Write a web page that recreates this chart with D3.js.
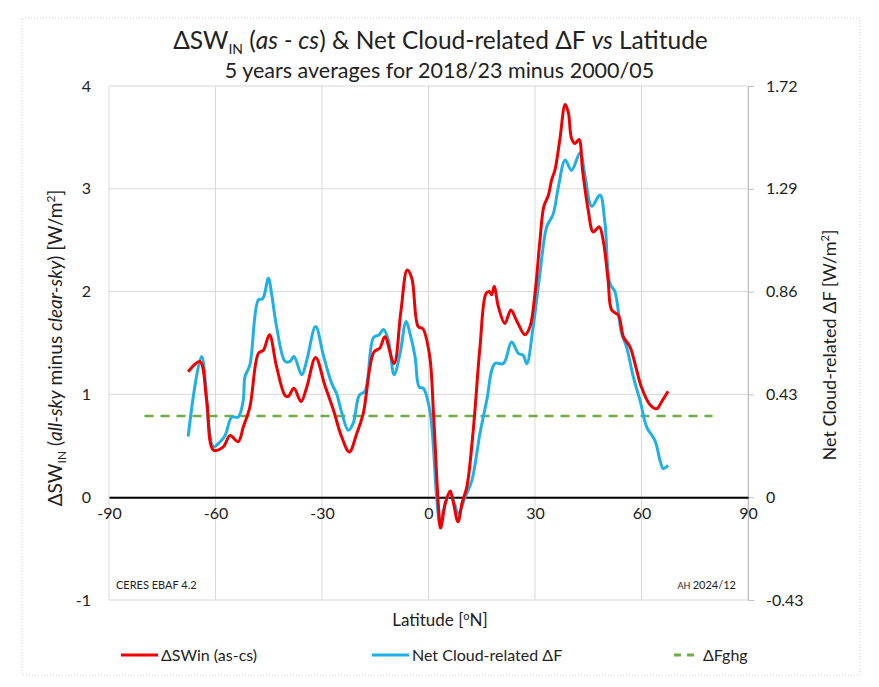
<!DOCTYPE html>
<html>
<head>
<meta charset="utf-8">
<script src="https://cdn.jsdelivr.net/npm/d3@7"></script>
<style>
  body { margin: 0; background: #fff; }
  text { font-family: Lato, "Open Sans", sans-serif; fill: #222; }
</style>
</head>
<body>
<svg width="879" height="687"></svg>
<script>
// latitude [deg N] and dSWin (as-cs) [W/m2], left axis
const swLat = [-67.7, -64.4, -62.5, -60.6, -57.8, -55.9, -53.6, -52.2, -50.3, -47.9, -46.5, -44.8, -42.8, -40.4, -39.5, -37.9, -35.9, -34.3, -31.8, -29.2, -26.8, -24.5, -22.3, -20.2, -18.4, -15.4, -13.7, -12.3, -9.7, -7.8, -6.0, -4.7, -2.9, -1.6, 0.3, 1.4, 2.8, 3.4, 4.8, 6.1, 7.0, 8.3, 9.5, 10.8, 12.6, 14.5, 16.2, 17.1, 17.8, 18.5, 19.7, 21.5, 23.2, 24.8, 27.2, 28.6, 30.0, 31.4, 32.5, 33.8, 34.7, 35.6, 37.0, 38.5, 39.4, 40.3, 41.3, 42.4, 43.4, 45.0, 46.4, 48.1, 49.2, 50.6, 51.6, 53.5, 54.9, 56.8, 58.6, 60.0, 62.4, 64.3, 65.7, 67.5];
const swVal = [1.22, 1.32, 0.95, 0.46, 0.49, 0.60, 0.54, 0.68, 0.88, 1.40, 1.43, 1.58, 1.27, 0.99, 0.98, 1.06, 0.93, 1.07, 1.36, 1.09, 0.85, 0.59, 0.44, 0.62, 0.81, 1.41, 1.45, 1.56, 1.30, 1.80, 2.21, 2.13, 1.66, 1.64, 1.38, 0.82, -0.09, -0.30, -0.05, 0.06, -0.05, -0.24, -0.05, 0.10, 0.65, 1.46, 1.98, 2.00, 1.97, 2.05, 1.85, 1.69, 1.82, 1.72, 1.58, 1.66, 1.98, 2.50, 2.83, 2.94, 3.09, 3.18, 3.48, 3.82, 3.74, 3.49, 3.44, 3.48, 3.18, 2.79, 2.58, 2.63, 2.50, 2.11, 1.82, 1.77, 1.56, 1.46, 1.24, 1.07, 0.90, 0.86, 0.93, 1.03];

// net cloud-related dF [W/m2], right axis
const cfLat = [-67.7, -63.9, -60.6, -58.7, -57.3, -55.4, -53.6, -52.2, -51.7, -50.3, -47.9, -46.7, -45.1, -44.2, -42.8, -40.4, -39.0, -37.9, -35.7, -34.3, -31.8, -29.6, -27.3, -25.9, -24.5, -22.6, -21.2, -19.5, -17.9, -15.5, -13.9, -12.7, -11.3, -9.7, -8.0, -6.3, -5.2, -3.8, -2.6, -1.5, 0.4, 2.3, 3.2, 4.8, 6.1, 7.2, 8.4, 10.3, 12.2, 14.5, 16.4, 18.7, 21.1, 23.4, 25.3, 26.7, 27.7, 29.5, 31.4, 33.3, 35.1, 36.6, 38.5, 40.3, 42.7, 44.1, 46.0, 48.3, 49.7, 51.1, 52.5, 54.4, 55.8, 57.7, 59.6, 61.5, 63.8, 65.2, 66.1, 67.5];
const cfVal = [0.254, 0.589, 0.211, 0.232, 0.258, 0.335, 0.335, 0.404, 0.503, 0.555, 0.826, 0.830, 0.916, 0.851, 0.714, 0.568, 0.568, 0.589, 0.512, 0.572, 0.714, 0.593, 0.477, 0.434, 0.357, 0.280, 0.310, 0.426, 0.443, 0.667, 0.679, 0.701, 0.658, 0.512, 0.602, 0.735, 0.684, 0.589, 0.460, 0.456, 0.361, 0.0, -0.108, -0.022, 0.017, -0.022, -0.069, 0.0, 0.069, 0.267, 0.404, 0.559, 0.559, 0.649, 0.602, 0.593, 0.559, 0.714, 0.937, 1.131, 1.183, 1.299, 1.410, 1.367, 1.441, 1.342, 1.217, 1.264, 1.148, 0.894, 0.860, 0.684, 0.628, 0.503, 0.404, 0.292, 0.237, 0.155, 0.120, 0.133];

// dFghg, right axis
const ghgLat = [-80, 80];
const ghgVal = [0.34, 0.34];

const xTicks = [-90, -60, -30, 0, 30, 60, 90];
const leftTicks = [-1, 0, 1, 2, 3, 4];
const rightTicks = [-0.43, 0, 0.43, 0.86, 1.29, 1.72];

const svg = d3.select("svg");
const width = parseInt(svg.attr("width"));

const plot = { left: 109, right: 748, top: 86, bottom: 600 };

const x = d3.scaleLinear().domain([-90, 90]).range([plot.left, plot.right]);
const yL = d3.scaleLinear().domain([-1, 4]).range([plot.bottom, plot.top]);
const yR = d3.scaleLinear().domain([-0.43, 1.72]).range([plot.bottom, plot.top]);

// plain hyphen for negatives, like the original
const hy = (s) => s.replace("−", "-");

// outer frame
svg.append("rect")
  .attr("x", 22).attr("y", 18).attr("width", 838).attr("height", 657)
  .attr("fill", "none").attr("stroke", "#cfcfcf").attr("stroke-dasharray", "1,2");

// title
const title = svg.append("text")
  .attr("x", width / 2 + 1).attr("y", 49)
  .attr("text-anchor", "middle").style("font-size", "24.5px");
title.append("tspan").text("ΔSW");
title.append("tspan").text("IN").attr("dy", 5).style("font-size", "14px");
title.append("tspan").text(" (").attr("dy", -5);
title.append("tspan").text("as - cs").style("font-style", "italic");
title.append("tspan").text(") & Net Cloud-related ΔF ");
title.append("tspan").text("vs").style("font-style", "italic");
title.append("tspan").text(" Latitude");

svg.append("text")
  .attr("x", width / 2).attr("y", 78)
  .attr("text-anchor", "middle").style("font-size", "21.5px")
  .text("5 years averages for 2018/23 minus 2000/05");

// grid
const grid = svg.append("g");
grid.selectAll("line.h").data(leftTicks).enter().append("line")
  .attr("x1", plot.left).attr("x2", plot.right)
  .attr("y1", (d) => yL(d)).attr("y2", (d) => yL(d))
  .attr("stroke", "#d9d9d9");
grid.selectAll("line.v").data(xTicks).enter().append("line")
  .attr("x1", (d) => x(d)).attr("x2", (d) => x(d))
  .attr("y1", plot.top).attr("y2", plot.bottom)
  .attr("stroke", "#d9d9d9");

// right axis
const rightAxis = d3.axisRight(yR).tickValues(rightTicks).tickSize(6).tickPadding(12)
  .tickFormat((d) => (d === 0 ? "0" : hy(d3.format(".2f")(d))));
const gR = svg.append("g").attr("transform", `translate(${plot.right},0)`).call(rightAxis);
gR.select(".domain").attr("stroke", "#bfbfbf");
gR.selectAll(".tick line").attr("stroke", "#bfbfbf");
gR.selectAll(".tick text").style("font-size", "16px").attr("fill", "#222")
  .style("font-family", "Lato, sans-serif");

// left axis (labels only)
const leftAxis = d3.axisLeft(yL).tickValues(leftTicks).tickSize(0).tickPadding(18)
  .tickFormat((d) => hy(d3.format("d")(d)));
const gL = svg.append("g").attr("transform", `translate(${plot.left},0)`).call(leftAxis);
gL.select(".domain").remove();
gL.selectAll(".tick text").style("font-size", "16px").attr("fill", "#222")
  .style("font-family", "Lato, sans-serif");

// x axis at zero
const xAxis = d3.axisBottom(x).tickValues(xTicks).tickSize(0).tickPadding(10)
  .tickFormat((d) => hy(d3.format("d")(d)));
const gX = svg.append("g").attr("transform", `translate(0,${yL(0)})`).call(xAxis);
gX.select(".domain").attr("stroke", "#000").attr("stroke-width", 2);
gX.selectAll(".tick text").style("font-size", "16px").attr("fill", "#222")
  .style("font-family", "Lato, sans-serif");

// lines
const ghgLine = d3.line().x((d, i) => x(ghgLat[i])).y((d) => yR(d));
svg.append("path").datum(ghgVal)
  .attr("d", ghgLine)
  .attr("fill", "none").attr("stroke", "#70ad47").attr("stroke-width", 2.5)
  .attr("stroke-dasharray", "9,7");

const cfLine = d3.line().curve(d3.curveCatmullRom)
  .x((d, i) => x(cfLat[i])).y((d) => yR(d));
svg.append("path").datum(cfVal)
  .attr("d", cfLine)
  .attr("fill", "none").attr("stroke", "#1fb0e8").attr("stroke-width", 3)
  .attr("stroke-linejoin", "round");

const swLine = d3.line().curve(d3.curveCatmullRom)
  .x((d, i) => x(swLat[i])).y((d) => yL(d));
svg.append("path").datum(swVal)
  .attr("d", swLine)
  .attr("fill", "none").attr("stroke", "#f00000").attr("stroke-width", 3)
  .attr("stroke-linejoin", "round");

// corner notes
svg.append("text").attr("x", 116).attr("y", 589).style("font-size", "11px")
  .text("CERES EBAF 4.2");
const note = svg.append("text").attr("x", 736).attr("y", 589)
  .attr("text-anchor", "end").style("font-size", "11px");
note.append("tspan").text("AH ").style("font-size", "9px");
note.append("tspan").text("2024/12");

// axis titles
const xTitle = svg.append("text").attr("x", 440).attr("y", 626)
  .attr("text-anchor", "middle").style("font-size", "17px");
xTitle.append("tspan").text("Latitude  [");
xTitle.append("tspan").text("o").attr("dy", -6).style("font-size", "11px");
xTitle.append("tspan").text("N]").attr("dy", 6);

const yTitle = svg.append("text")
  .attr("transform", "translate(62,348) rotate(-90)")
  .attr("text-anchor", "middle").style("font-size", "19px");
yTitle.append("tspan").text("ΔSW");
yTitle.append("tspan").text("IN").attr("dy", 4).style("font-size", "12px");
yTitle.append("tspan").text(" (").attr("dy", -4);
yTitle.append("tspan").text("all-sky").style("font-style", "italic");
yTitle.append("tspan").text(" minus ");
yTitle.append("tspan").text("clear-sky").style("font-style", "italic");
yTitle.append("tspan").text(") [W/m");
yTitle.append("tspan").text("2").attr("dy", -7).style("font-size", "12px");
yTitle.append("tspan").text("]").attr("dy", 7);

const y2Title = svg.append("text")
  .attr("transform", "translate(836,345) rotate(-90)")
  .attr("text-anchor", "middle").style("font-size", "18px");
y2Title.append("tspan").text("Net Cloud-related  ΔF  [W/m");
y2Title.append("tspan").text("2").attr("dy", -7).style("font-size", "11px");
y2Title.append("tspan").text("]").attr("dy", 7);

// legend
const legendItems = [
  { label: "ΔSWin (as-cs)", color: "#f00000", dash: null, x0: 121, tx: 161 },
  { label: "Net Cloud-related ΔF", color: "#1fb0e8", dash: null, x0: 372, tx: 412 },
  { label: "ΔFghg", color: "#70ad47", dash: "7,6", x0: 674, tx: 703 }
];
const legend = svg.append("g");
legendItems.forEach((d) => {
  legend.append("line")
    .attr("x1", d.x0).attr("x2", d.tx - 3).attr("y1", 655).attr("y2", 655)
    .attr("stroke", d.color).attr("stroke-width", 3)
    .attr("stroke-dasharray", d.dash);
  legend.append("text").attr("x", d.tx).attr("y", 661)
    .style("font-size", "16px").text(d.label);
});
</script>
</body>
</html>
